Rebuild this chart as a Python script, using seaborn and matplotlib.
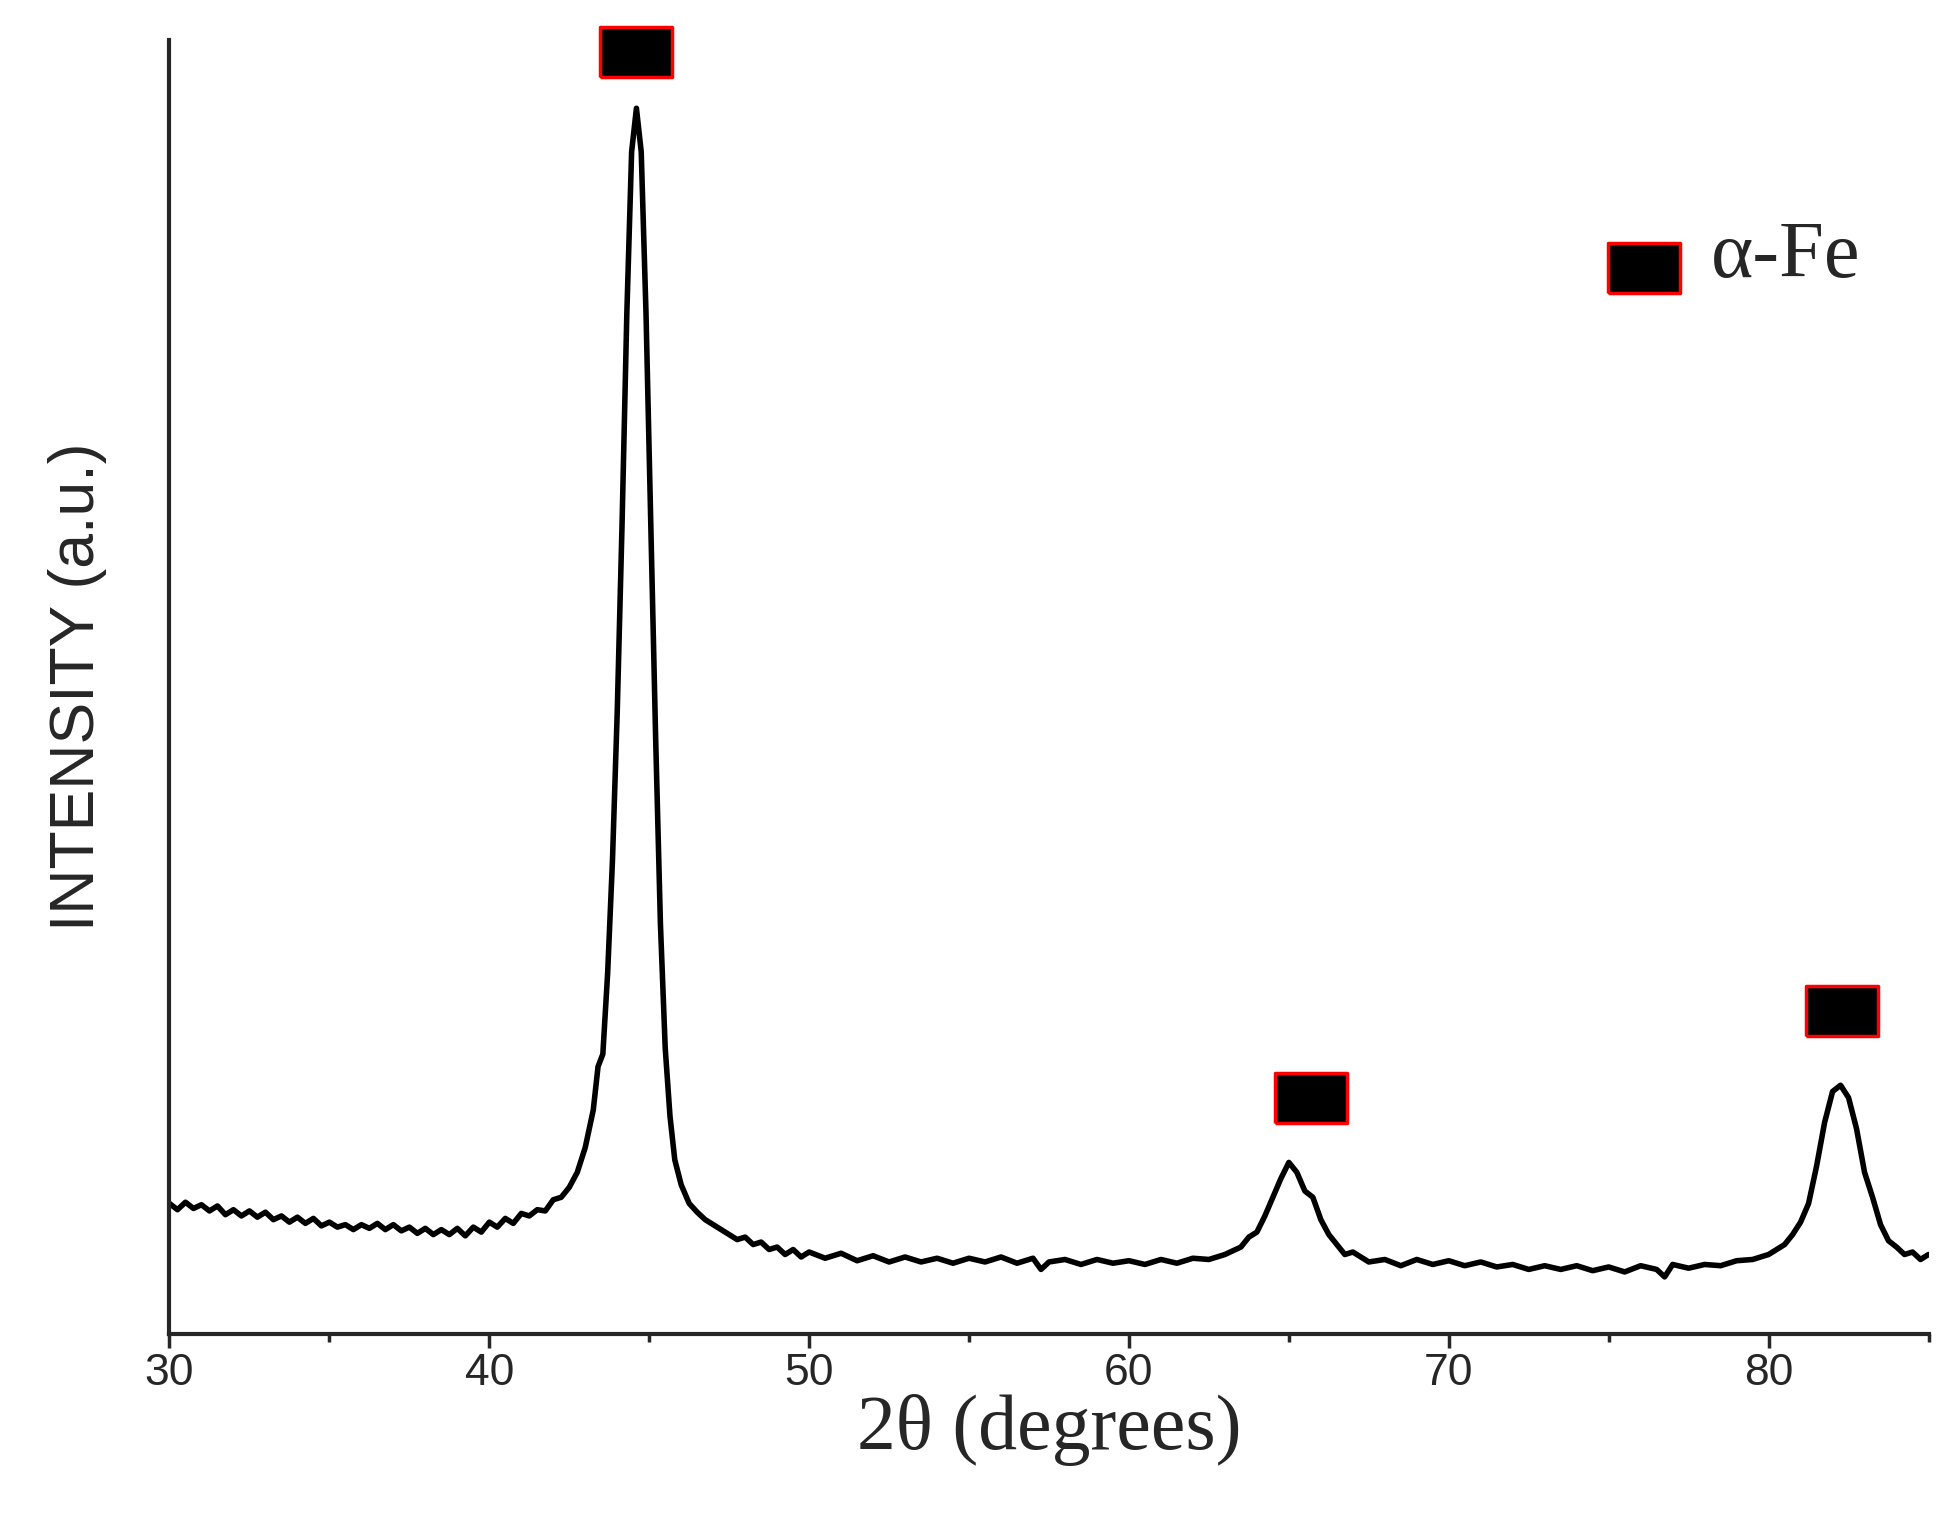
import numpy as np
import matplotlib
matplotlib.use("Agg")
import matplotlib.pyplot as plt
import seaborn as sns

two_theta = [30.0, 30.25, 30.5, 30.75, 31.0, 31.25, 31.5, 31.75, 32.0, 32.25, 32.5, 32.75, 33.0, 33.25, 33.5, 33.75,
             34.0, 34.25, 34.5, 34.75, 35.0, 35.25, 35.5, 35.75, 36.0, 36.25, 36.5, 36.75, 37.0, 37.25, 37.5, 37.75,
             38.0, 38.25, 38.5, 38.75, 39.0, 39.25, 39.5, 39.75, 40.0, 40.25, 40.5, 40.75, 41.0, 41.25, 41.5, 41.75,
             42.0, 42.25, 42.5, 42.75, 43.0, 43.25, 43.4, 43.55, 43.7, 43.85, 44.0, 44.15, 44.3, 44.45, 44.6, 44.75,
             44.9, 45.05, 45.2, 45.35, 45.5, 45.65, 45.8, 46.0, 46.25, 46.5, 46.75, 47.0, 47.25, 47.5, 47.75, 48.0,
             48.25, 48.5, 48.75, 49.0, 49.25, 49.5, 49.75, 50.0, 50.5, 51.0, 51.5, 52.0, 52.5, 53.0, 53.5, 54.0,
             54.5, 55.0, 55.5, 56.0, 56.5, 57.0, 57.25, 57.5, 58.0, 58.5, 59.0, 59.5, 60.0, 60.5, 61.0, 61.5,
             62.0, 62.5, 63.0, 63.5, 63.75, 64.0, 64.25, 64.5, 64.75, 65.0, 65.25, 65.5, 65.75, 66.0, 66.25, 66.5,
             66.75, 67.0, 67.5, 68.0, 68.5, 69.0, 69.5, 70.0, 70.5, 71.0, 71.5, 72.0, 72.5, 73.0, 73.5, 74.0,
             74.5, 75.0, 75.5, 76.0, 76.5, 76.75, 77.0, 77.5, 78.0, 78.5, 79.0, 79.5, 80.0, 80.5, 80.75, 81.0,
             81.25, 81.5, 81.75, 82.0, 82.25, 82.5, 82.75, 83.0, 83.25, 83.5, 83.75, 84.0, 84.25, 84.5, 84.75, 85.0]
intensity = [105, 100, 106, 101, 104, 99, 103, 96, 100, 95, 99, 94, 98, 92, 95, 90,
             94, 89, 93, 87, 90, 86, 88, 84, 88, 85, 89, 84, 88, 83, 86, 81,
             85, 80, 84, 80, 85, 79, 86, 82, 90, 86, 93, 89, 97, 95, 100, 99,
             108, 110, 118, 130, 150, 180, 215, 225, 290, 380, 500, 650, 820, 950, 985, 950,
             820, 650, 480, 330, 230, 175, 140, 120, 105, 98, 92, 88, 84, 80, 76, 78,
             72, 74, 68, 70, 64, 68, 62, 66, 61, 65, 59, 63, 58, 62, 58, 61,
             57, 61, 58, 62, 57, 61, 52, 58, 60, 56, 60, 57, 59, 56, 60, 57,
             61, 60, 64, 70, 78, 82, 95, 110, 125, 138, 130, 115, 110, 92, 80, 72,
             64, 66, 58, 60, 55, 60, 56, 59, 55, 58, 54, 56, 52, 55, 52, 55,
             51, 54, 50, 55, 52, 46, 56, 53, 56, 55, 59, 60, 64, 72, 80, 90,
             105, 135, 170, 195, 200, 190, 165, 130, 110, 88, 75, 70, 64, 66, 60, 64]

peak_pos = [44.6, 65.7, 82.3]
peak_mark_y = [1030, 190, 260]
legend_label = "α-Fe"

sns.set_style("ticks")
plt.rcParams['font.family'] = ['Liberation Sans', 'DejaVu Sans']

fig = plt.figure(figsize=(19.48, 15.30), dpi=100)
ax = fig.add_axes([0.087, 0.128, 0.903, 0.846])
sns.lineplot(x=two_theta, y=intensity, ax=ax, color='black', linewidth=4)

box = [(-1.45, -1), (1.45, -1), (1.45, 1), (-1.45, 1), (-1.45, -1)]
ax.scatter(peak_pos, peak_mark_y, marker=box, s=2700, facecolor='black',
           edgecolor='red', linewidth=2.5, zorder=5, clip_on=False)
ax.scatter([76.1], [857], marker=box, s=2700, facecolor='black',
           edgecolor='red', linewidth=2.5, zorder=5)
ax.text(78.2, 865, legend_label, fontsize=58, family=['Liberation Serif', 'DejaVu Serif'],
        va='center', ha='left')

ax.set_xlim(30, 85)
ax.set_ylim(0, 1040)
ax.set_xticks([30, 40, 50, 60, 70, 80])
ax.set_xticks([35, 45, 55, 65, 75, 85], minor=True)
ax.set_yticks([])
ax.tick_params(axis='x', which='major', labelsize=32, length=10, width=2.5, direction='out')
ax.tick_params(axis='x', which='minor', length=6, width=2.5, direction='out')
for s in ['top', 'right']:
    ax.spines[s].set_visible(False)
for s in ['left', 'bottom']:
    ax.spines[s].set_linewidth(3)

ax.set_xlabel("2θ (degrees)", fontsize=56, family=['Liberation Serif', 'DejaVu Serif'], labelpad=0)
ax.set_ylabel("INTENSITY (a.u.)", fontsize=45, labelpad=45)

fig.savefig("out.png", dpi=100)
